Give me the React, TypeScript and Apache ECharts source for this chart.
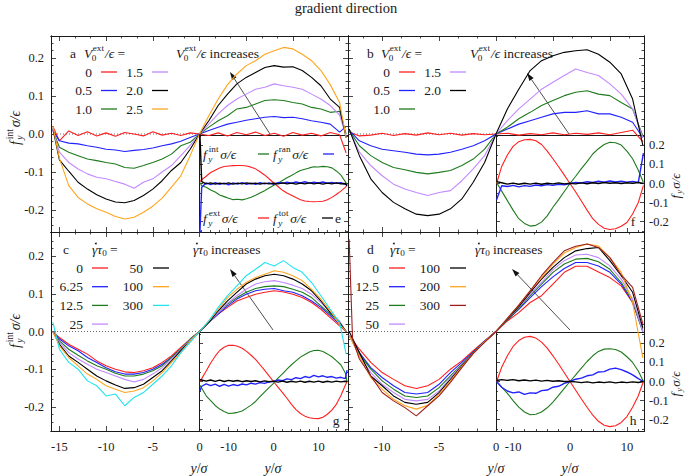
import React, { useEffect, useRef } from 'react';
import * as echarts from 'echarts';

const FONT = 'Liberation Serif';
const INK = '#1a1a1a';
const RED = '#ff1f1f', BLUE = '#2222ff', GREEN = '#1e7b1e', VIOLET = '#c28aff',
  BLACK = '#000000', ORANGE = '#ffa51f', CYAN = '#22e3ee', DARKRED = '#9e1e1e';

// ---------- x positions ----------
const xsA = [-15.7, -15, -14, -13, -12, -11, -10, -9, -8, -7, -6, -5, -4, -3, -2, -1, 0, 1, 2, 3, 4, 5, 6, 7, 8, 9, 10, 11, 12, 13, 14, 15, 15.7];
const xsB = [-12.9, -12, -11, -10, -9, -8, -7, -6, -5, -4, -3, -2, -1, 0, 1, 2, 3, 4, 5, 6, 7, 8, 9, 10, 11, 12, 12.9];
const xsD300 = [-12.9, -12.6, -12, -11, -10, -9, -8, -7, -6, -5, -4, -3, -2, -1, 0, 1, 2, 3, 4, 5, 6, 7, 8, 9, 10, 11, 12, 12.9];
const xsE = [-16.4, -16, -15, -14, -13, -12, -11, -10, -9, -8, -7, -6, -5, -4, -3, -2, -1, 0, 1, 2, 3, 4, 5, 6, 7, 8, 9, 10, 11, 12, 13, 14, 15, 16, 16.4];

// ---------- panel a : V0ext/eps ----------
const a_V0 = [0.02, -0.018, 0.008, -0.004, 0.006, -0.005, 0.003, -0.006, 0.004, 0.0, -0.005, 0.006, -0.003, 0.002, -0.004, 0.003, 0.0, -0.004, 0.003, -0.005, 0.004, -0.002, 0.005, -0.004, 0.002, -0.006, 0.004, -0.003, 0.002, -0.005, 0.004, -0.002, -0.05];
const a_V05 = [0.01, -0.018, -0.024, -0.026, -0.031, -0.035, -0.04, -0.042, -0.046, -0.043, -0.041, -0.037, -0.031, -0.026, -0.019, -0.009, 0, 0.009, 0.018, 0.026, 0.031, 0.036, 0.04, 0.044, 0.046, 0.043, 0.044, 0.04, 0.035, 0.031, 0.026, 0.005, 0.02];
const a_V10 = [0.01, -0.035, -0.048, -0.057, -0.066, -0.07, -0.075, -0.079, -0.088, -0.09, -0.083, -0.075, -0.066, -0.053, -0.031, -0.022, 0, 0.018, 0.035, 0.048, 0.066, 0.07, 0.079, 0.088, 0.09, 0.088, 0.083, 0.079, 0.07, 0.066, 0.057, 0.06, 0.0];
const a_V15 = [0.01, -0.048, -0.075, -0.092, -0.105, -0.114, -0.118, -0.125, -0.132, -0.143, -0.127, -0.118, -0.1, -0.083, -0.057, -0.03, 0, 0.026, 0.053, 0.075, 0.092, 0.105, 0.118, 0.123, 0.132, 0.127, 0.123, 0.118, 0.105, 0.092, 0.075, 0.05, -0.005];
const a_V20 = [0.015, -0.068, -0.098, -0.127, -0.145, -0.16, -0.171, -0.179, -0.181, -0.175, -0.162, -0.145, -0.123, -0.096, -0.075, -0.04, 0, 0.035, 0.075, 0.105, 0.132, 0.149, 0.162, 0.175, 0.18, 0.176, 0.177, 0.167, 0.149, 0.127, 0.092, 0.07, -0.01];
const a_V25 = [0.02, -0.064, -0.136, -0.167, -0.184, -0.197, -0.206, -0.217, -0.224, -0.219, -0.206, -0.19, -0.169, -0.14, -0.11, -0.057, 0, 0.048, 0.092, 0.13, 0.158, 0.18, 0.193, 0.21, 0.219, 0.228, 0.224, 0.21, 0.193, 0.167, 0.13, 0.083, -0.01];

// ---------- panel b ----------
const b_V0 = [0.005, -0.005, -0.003, 0.002, -0.004, 0.001, -0.003, 0.003, -0.002, 0.002, -0.003, 0.001, -0.002, 0, 0.002, -0.003, 0.001, -0.002, 0.003, -0.002, 0.002, -0.001, 0.003, -0.002, 0.004, 0.01, -0.02];
const b_V05 = [0.01, -0.018, -0.031, -0.04, -0.044, -0.048, -0.053, -0.055, -0.053, -0.048, -0.04, -0.031, -0.018, 0, 0.013, 0.026, 0.035, 0.044, 0.053, 0.057, 0.057, 0.061, 0.053, 0.053, 0.044, 0.031, -0.01];
const b_V10 = [0.01, -0.031, -0.057, -0.075, -0.088, -0.094, -0.101, -0.105, -0.101, -0.096, -0.083, -0.066, -0.04, 0, 0.018, 0.04, 0.057, 0.075, 0.088, 0.101, 0.11, 0.114, 0.105, 0.101, 0.083, 0.066, -0.005];
const b_V15 = [0.01, -0.048, -0.083, -0.11, -0.132, -0.145, -0.154, -0.162, -0.154, -0.149, -0.123, -0.092, -0.057, 0, 0.035, 0.066, 0.092, 0.118, 0.136, 0.154, 0.171, 0.162, 0.154, 0.132, 0.105, 0.066, -0.01];
const b_V20 = [0.013, -0.057, -0.118, -0.154, -0.18, -0.197, -0.211, -0.215, -0.211, -0.197, -0.171, -0.127, -0.075, 0, 0.066, 0.118, 0.167, 0.193, 0.206, 0.215, 0.219, 0.222, 0.21, 0.189, 0.158, 0.092, -0.03];

// ---------- panel c : shear rate ----------
const c_0 = [0.0, -0.016, -0.034, -0.047, -0.06, -0.078, -0.091, -0.1, -0.107, -0.109, -0.104, -0.096, -0.082, -0.065, -0.042, -0.02, 0, 0.024, 0.046, 0.064, 0.081, 0.09, 0.099, 0.104, 0.108, 0.105, 0.099, 0.09, 0.077, 0.059, 0.037, 0.015, 0.0];
const c_625 = [0.0, -0.02, -0.038, -0.051, -0.069, -0.082, -0.096, -0.107, -0.113, -0.113, -0.109, -0.1, -0.087, -0.069, -0.047, -0.022, 0, 0.024, 0.046, 0.068, 0.086, 0.099, 0.108, 0.112, 0.114, 0.108, 0.104, 0.095, 0.081, 0.064, 0.042, 0.019, 0.0];
const c_125 = [0.0, -0.025, -0.047, -0.063, -0.078, -0.091, -0.1, -0.111, -0.118, -0.118, -0.113, -0.104, -0.091, -0.069, -0.047, -0.02, 0, 0.024, 0.05, 0.073, 0.09, 0.104, 0.114, 0.119, 0.121, 0.119, 0.112, 0.104, 0.09, 0.068, 0.046, 0.024, 0.0];
const c_25 = [0.0, -0.029, -0.056, -0.073, -0.087, -0.1, -0.109, -0.118, -0.127, -0.134, -0.127, -0.113, -0.096, -0.073, -0.049, -0.022, 0, 0.024, 0.05, 0.075, 0.095, 0.112, 0.126, 0.132, 0.135, 0.13, 0.123, 0.114, 0.099, 0.077, 0.05, 0.028, 0.0];
const c_50 = [0.0, -0.034, -0.065, -0.082, -0.1, -0.118, -0.131, -0.142, -0.151, -0.149, -0.14, -0.122, -0.104, -0.078, -0.051, -0.025, 0, 0.024, 0.055, 0.081, 0.104, 0.126, 0.139, 0.148, 0.152, 0.148, 0.139, 0.126, 0.108, 0.081, 0.05, 0.024, 0.0];
const c_100 = [0.0, -0.038, -0.069, -0.091, -0.113, -0.127, -0.144, -0.153, -0.162, -0.158, -0.149, -0.131, -0.109, -0.082, -0.056, -0.025, 0, 0.028, 0.059, 0.09, 0.112, 0.13, 0.143, 0.152, 0.161, 0.157, 0.148, 0.135, 0.112, 0.086, 0.055, 0.019, 0.0];
const c_300 = [0.024, -0.047, -0.082, -0.1, -0.131, -0.144, -0.171, -0.166, -0.197, -0.175, -0.162, -0.14, -0.118, -0.091, -0.056, -0.029, 0, 0.028, 0.064, 0.095, 0.121, 0.148, 0.165, 0.183, 0.174, 0.188, 0.17, 0.157, 0.13, 0.095, 0.059, 0.024, -0.06];

// ---------- panel d ----------
const d_0 = [-0.01, -0.047, -0.082, -0.109, -0.127, -0.144, -0.151, -0.144, -0.127, -0.1, -0.078, -0.051, -0.025, 0, 0.028, 0.05, 0.077, 0.095, 0.126, 0.157, 0.173, 0.173, 0.158, 0.143, 0.121, 0.077, 0.006];
const d_125 = [-0.01, -0.056, -0.096, -0.122, -0.144, -0.162, -0.166, -0.162, -0.14, -0.109, -0.082, -0.054, -0.025, 0, 0.031, 0.059, 0.09, 0.119, 0.145, 0.167, 0.183, 0.183, 0.174, 0.157, 0.126, 0.077, 0.0];
const d_25 = [-0.01, -0.06, -0.1, -0.131, -0.153, -0.171, -0.175, -0.171, -0.149, -0.118, -0.087, -0.056, -0.026, 0, 0.031, 0.061, 0.095, 0.126, 0.157, 0.179, 0.192, 0.194, 0.185, 0.165, 0.13, 0.081, 0.0];
const d_50 = [-0.01, -0.065, -0.109, -0.14, -0.162, -0.18, -0.184, -0.18, -0.158, -0.122, -0.089, -0.058, -0.027, 0, 0.033, 0.064, 0.099, 0.13, 0.164, 0.188, 0.203, 0.205, 0.196, 0.174, 0.139, 0.086, 0.0];
const d_100 = [0.0, -0.056, -0.118, -0.144, -0.171, -0.188, -0.193, -0.188, -0.162, -0.127, -0.091, -0.058, -0.027, 0, 0.033, 0.066, 0.104, 0.139, 0.17, 0.196, 0.214, 0.22, 0.223, 0.188, 0.148, 0.104, 0.01];
const d_200 = [-0.01, -0.065, -0.122, -0.153, -0.18, -0.197, -0.206, -0.196, -0.166, -0.131, -0.093, -0.058, -0.027, 0, 0.035, 0.07, 0.108, 0.143, 0.179, 0.208, 0.223, 0.232, 0.227, 0.196, 0.157, 0.077, -0.07];
const d_300 = [0.245, -0.02, -0.073, -0.118, -0.162, -0.184, -0.202, -0.224, -0.197, -0.171, -0.135, -0.096, -0.058, -0.029, 0, 0.035, 0.07, 0.108, 0.148, 0.183, 0.214, 0.226, 0.232, 0.223, 0.196, 0.15, 0.117, 0.02];

// ---------- insets: f_int (green), f_ran (blue), f_ext (red), f_tot (black) ----------
const e_int = [0.005, -0.012, -0.02, -0.034, -0.045, -0.06, -0.069, -0.078, -0.085, -0.083, -0.086, -0.08, -0.072, -0.062, -0.05, -0.038, -0.024, -0.01, 0.002, 0.016, 0.03, 0.042, 0.056, 0.068, 0.075, 0.082, 0.088, 0.087, 0.09, 0.088, 0.082, 0.066, 0.045, 0.01, -0.005];
const e_ran = [-0.26, -0.02, 0.003, -0.006, 0.004, -0.004, 0.002, -0.007, 0.003, -0.003, 0.005, -0.004, 0.002, -0.005, 0.004, -0.002, 0.003, -0.004, 0.005, 0.001, 0.007, 0.002, 0.008, 0.003, 0.009, 0.002, 0.007, 0.003, 0.008, 0.002, 0.006, 0.001, 0.004, -0.004, -0.01];
const e_ext = [0.01, 0.02, 0.038, 0.058, 0.07, 0.082, 0.089, 0.092, 0.094, 0.095, 0.095, 0.092, 0.086, 0.077, 0.062, 0.045, 0.025, 0.004, -0.016, -0.036, -0.05, -0.062, -0.074, -0.085, -0.092, -0.095, -0.096, -0.095, -0.093, -0.085, -0.073, -0.058, -0.04, -0.02, -0.01];
const e_tot = [0.26, 0.01, -0.002, 0.003, -0.003, 0.002, -0.002, 0.003, -0.003, 0.002, -0.002, 0.003, -0.001, 0.002, -0.003, 0.002, -0.002, 0.001, -0.002, 0.003, -0.002, 0.002, -0.003, 0.002, -0.002, 0.003, -0.002, 0.002, -0.003, 0.002, -0.002, 0.003, -0.002, 0.0, -0.01];

const f_int = [0.005, -0.04, -0.09, -0.14, -0.185, -0.21, -0.224, -0.22, -0.203, -0.17, -0.125, -0.085, -0.042, 0, 0.038, 0.078, 0.115, 0.155, 0.183, 0.205, 0.217, 0.214, 0.202, 0.17, 0.13, 0.07, 0.005];
const f_ran = [-0.085, -0.012, -0.016, -0.01, -0.018, -0.011, -0.015, -0.008, -0.012, -0.006, -0.01, -0.004, -0.007, 0, 0.006, 0.003, 0.009, 0.005, 0.012, 0.007, 0.013, 0.008, 0.012, 0.007, 0.011, 0.006, 0.16];
const f_ext = [0.0, 0.09, 0.15, 0.195, 0.22, 0.23, 0.232, 0.225, 0.205, 0.17, 0.13, 0.088, 0.044, 0, -0.045, -0.092, -0.14, -0.185, -0.215, -0.235, -0.242, -0.238, -0.225, -0.205, -0.16, -0.1, -0.01];
const f_tot = [0.01, 0.004, -0.003, 0.002, -0.004, 0.001, -0.003, 0.002, -0.004, 0.001, -0.002, 0.003, -0.002, 0.001, -0.002, 0.003, -0.001, 0.004, 0.0, 0.005, 0.001, 0.004, 0.0, 0.004, 0.001, 0.005, 0.0];

const g_int = [-0.02, -0.035, -0.075, -0.1, -0.126, -0.145, -0.158, -0.168, -0.166, -0.162, -0.155, -0.14, -0.124, -0.105, -0.08, -0.056, -0.032, -0.01, 0.018, 0.04, 0.065, 0.088, 0.108, 0.128, 0.142, 0.155, 0.163, 0.164, 0.158, 0.145, 0.13, 0.11, 0.088, 0.045, 0.0];
const g_ran = [-0.05, -0.025, -0.012, -0.022, -0.014, -0.025, -0.015, -0.024, -0.016, -0.022, -0.013, -0.018, -0.009, -0.014, -0.006, -0.01, -0.002, 0.0, 0.008, 0.004, 0.014, 0.01, 0.02, 0.015, 0.026, 0.02, 0.032, 0.024, 0.03, 0.022, 0.026, 0.018, 0.022, 0.015, 0.06];
const g_ext = [0.0, 0.015, 0.055, 0.097, 0.133, 0.163, 0.18, 0.19, 0.19, 0.185, 0.175, 0.158, 0.138, 0.116, 0.088, 0.06, 0.03, 0.0, -0.03, -0.058, -0.088, -0.12, -0.148, -0.168, -0.182, -0.19, -0.194, -0.195, -0.188, -0.172, -0.15, -0.12, -0.075, -0.02, 0.0];
const g_tot = [0.01, 0.008, 0.002, 0.008, 0.001, 0.007, 0.0, 0.006, 0.001, 0.005, -0.001, 0.004, 0.0, 0.004, -0.002, 0.003, -0.001, 0.002, -0.003, 0.002, -0.004, 0.001, -0.003, 0.002, -0.004, 0.001, -0.003, 0.002, -0.004, 0.001, -0.003, 0.002, -0.002, 0.001, 0.0];

const h_int = [0.0, -0.03, -0.062, -0.1, -0.135, -0.16, -0.175, -0.172, -0.16, -0.138, -0.108, -0.073, -0.036, 0, 0.035, 0.07, 0.105, 0.135, 0.158, 0.17, 0.172, 0.168, 0.155, 0.13, 0.1, 0.055, 0.0];
const h_ran = [0.0, -0.03, -0.05, -0.06, -0.055, -0.068, -0.06, -0.062, -0.048, -0.045, -0.03, -0.025, -0.01, 0, 0.012, 0.018, 0.03, 0.035, 0.05, 0.052, 0.065, 0.07, 0.062, 0.05, 0.035, 0.015, 0.0];
const h_ext = [0.0, 0.075, 0.135, 0.184, 0.215, 0.232, 0.237, 0.228, 0.207, 0.175, 0.135, 0.092, 0.046, 0, -0.046, -0.092, -0.135, -0.177, -0.209, -0.23, -0.237, -0.232, -0.215, -0.184, -0.135, -0.075, 0.0];
const h_tot = [0.005, 0.01, 0.006, 0.01, 0.004, 0.008, 0.003, 0.007, 0.002, 0.006, 0.001, 0.004, 0.0, 0, -0.002, -0.006, -0.002, -0.007, -0.003, -0.006, -0.002, -0.007, -0.003, -0.006, -0.002, -0.005, 0.0];

// ---------- legends / ticks ----------
const legA = ['0', '0.5', '1.0', '1.5', '2.0', '2.5'];
const legB = ['0', '0.5', '1.0', '1.5', '2.0'];
const legC = ['0', '6.25', '12.5', '25', '50', '100', '300'];
const legD = ['0', '12.5', '25', '50', '100', '200', '300'];
const colA = [RED, BLUE, GREEN, VIOLET, BLACK, ORANGE];
const colC = [RED, BLUE, GREEN, VIOLET, BLACK, ORANGE, CYAN];
const colD = [RED, BLUE, GREEN, VIOLET, BLACK, ORANGE, DARKRED];

const Y_TICKS = [-0.2, -0.1, 0, 0.1, 0.2];
const X_TICKS_AC = [-15, -10, -5, 0];
const X_TICKS_AC_FULL = [-15, -10, -5, 0, 5, 10, 15];
const X_TICKS_BD = [-10, -5, 0];
const X_TICKS_BD_FULL = [-10, -5, 0, 5, 10];
const X_TICKS_INSET = [-10, 0, 10];

// ---------- text helpers ----------
type Part = { t: string; it?: boolean; sz?: number; dy?: number; st?: boolean; dx?: number; dot?: boolean };
let mctx: CanvasRenderingContext2D | null = null;
const fontStr = (size: number, it: boolean) => `${it ? 'italic ' : ''}${size}px ${FONT}`;
function textW(t: string, size: number, it: boolean) {
  if (!mctx) mctx = document.createElement('canvas').getContext('2d');
  if (!mctx) return t.length * size * 0.5;
  mctx.font = fontStr(size, it);
  return mctx.measureText(t).width;
}
function txtStyle(t: string, size: number, it: boolean, align = 'left') {
  return {
    text: t, fontFamily: FONT, fontSize: size, fontStyle: it ? 'italic' : 'normal', fill: INK,
    textAlign: align, align, textVerticalAlign: 'middle', verticalAlign: 'middle',
  };
}
function mathGroup(parts: Part[], base: number, x: number, y: number, align: 'left' | 'right' | 'center' = 'left', rotation = 0) {
  let cx = 0, prevStart = 0, prevW = 0;
  const items: any[] = [];
  for (const p of parts) {
    if (p.dot) { items.push({ sx: prevStart + prevW / 2 + (p.dx ?? 0), p, size: 0 }); continue; }
    const size = base * (p.sz ?? 1);
    const w = textW(p.t, size, !!p.it);
    let sx: number;
    if (p.st) { sx = prevStart + (p.dx ?? 0); const m = Math.max(prevW, w + (p.dx ?? 0)); cx = prevStart + m; prevW = m; }
    else { sx = cx + (p.dx ?? 0); cx = sx + w; prevStart = sx; prevW = w; }
    items.push({ sx, p, size });
  }
  const off = align === 'left' ? 0 : align === 'right' ? -cx : -cx / 2;
  return {
    type: 'group', x, y, rotation, silent: true,
    children: items.map(({ sx, p, size }) => p.dot
      ? { type: 'circle', shape: { cx: sx + off, cy: p.dy ?? 0, r: 0.95 }, style: { fill: INK } }
      : { type: 'text', x: sx + off, y: p.dy ?? 0, style: txtStyle(p.t, size, !!p.it) }),
  };
}
function plain(x: number, y: number, t: string, size: number, align = 'left') {
  return { type: 'text', x, y, silent: true, style: txtStyle(t, size, false, align) };
}
function dash(x1: number, x2: number, y: number, color: string) {
  return { type: 'line', silent: true, shape: { x1, y1: y, x2, y2: y }, style: { stroke: color, lineWidth: 1.3 } };
}
function arrow(x1: number, y1: number, x2: number, y2: number) {
  const ang = Math.atan2(y2 - y1, x2 - x1), L = 8, Wd = 2.6;
  const bx = x2 - L * Math.cos(ang), by = y2 - L * Math.sin(ang);
  const px = -Math.sin(ang) * Wd, py = Math.cos(ang) * Wd;
  return [
    { type: 'line', silent: true, shape: { x1, y1, x2: bx, y2: by }, style: { stroke: '#222', lineWidth: 0.8 } },
    { type: 'polygon', silent: true, shape: { points: [[x2, y2], [bx + px, by + py], [bx - px, by - py]] }, style: { fill: '#111' } },
  ];
}

const sub = (t: string, dx = 1.5, dy = 5): Part => ({ t, it: true, sz: 0.68, dy, dx });
const sup = (t: string, dx = 0): Part => ({ t, sz: 0.68, dy: -5.5, st: true, dx });
const fPart = (s: string): Part[] => [{ t: 'f', it: true }, sub('y'), sup(s, 0.5), { t: 'σ/ϵ', it: true, dx: 1.8 }];
const V0: Part[] = [{ t: 'V', it: true }, { t: '0', sz: 0.68, dy: 5, dx: -0.5 }, sup('ext', 1), { t: '/ϵ', it: true, dx: 1 }];
const G0: Part[] = [{ t: 'γ', it: true }, { t: '', dot: true, dy: -5.5, dx: 1.2 }, { t: 'τ', it: true }, { t: '0', sz: 0.68, dy: 4 }];

function ticksBetween(from: number, to: number, step: number, exclude: number[]) {
  const out: number[] = [];
  const n = Math.floor((to - from) / step + 1e-9);
  for (let i = 0; i <= n; i++) {
    const v = Math.round((from + i * step) * 1e6) / 1e6;
    if (!exclude.some(e => Math.abs(e - v) < 1e-6)) out.push(v);
  }
  return out;
}

function buildOption() {
  const grid: any[] = [], xAxis: any[] = [], yAxis: any[] = [], series: any[] = [];
  const fmtX = (v: number) => String(v);
  const fmtY = (v: number) => v.toFixed(1);
  const ax = (gi: number, position: string, min: number, max: number, ticks: number[], len: number, labels?: number[] | null, margin = 8, fmt?: any) => ({
    type: 'value', gridIndex: gi, position, min, max,
    axisLine: { show: true, onZero: false, lineStyle: { color: INK, width: 1 } },
    axisTick: { show: ticks.length > 0, inside: true, length: len, customValues: ticks, lineStyle: { color: INK, width: 0.8 } },
    axisLabel: labels ? { show: true, customValues: labels, formatter: fmt, margin, fontFamily: FONT, fontSize: 12.5, color: INK } : { show: false },
    splitLine: { show: false }, minorTick: { show: false }, splitArea: { show: false },
  });

  const addMain = (box: any, L: number, yr: number, xMaj: number[], xFull: number[], xLab: boolean, yLab: boolean) => {
    const gi = grid.length; grid.push(box);
    const xi = xAxis.length, yi = yAxis.length;
    xAxis.push(ax(gi, 'bottom', -L, L, xMaj, 5, xLab ? xMaj : null, 9, fmtX));
    xAxis.push(ax(gi, 'bottom', -L, L, ticksBetween(-15, 0, 5 / 3, xMaj).filter(v => v > -L), 2.5));
    xAxis.push(ax(gi, 'top', -L, L, xFull, 5));
    xAxis.push(ax(gi, 'top', -L, L, ticksBetween(-15, 15, 5 / 3, xFull).filter(v => Math.abs(v) < L), 2.5));
    yAxis.push(ax(gi, 'left', -yr, yr, Y_TICKS, 5, yLab ? Y_TICKS : null, 7, fmtY));
    yAxis.push(ax(gi, 'left', -yr, yr, ticksBetween(-0.24, 0.24, 0.02, Y_TICKS), 2.5));
    yAxis.push(ax(gi, 'right', -yr, yr, [0.1, 0.2], 5));
    yAxis.push(ax(gi, 'right', -yr, yr, ticksBetween(0.02, 0.24, 0.02, Y_TICKS), 2.5));
    series.push({ type: 'line', xAxisIndex: xi, yAxisIndex: yi, data: [[-L, 0], [0, 0]], symbol: 'none', silent: true, z: 1, lineStyle: { color: '#444', width: 0.8, type: [1, 2] } });
    return { xi, yi };
  };
  const addInset = (box: any, L: number, yr: number, xLab: boolean, yLab: boolean) => {
    const gi = grid.length; grid.push(box);
    const xi = xAxis.length, yi = yAxis.length;
    xAxis.push(ax(gi, 'bottom', -L, L, X_TICKS_INSET, 4, xLab ? X_TICKS_INSET : null, 9, fmtX));
    xAxis.push(ax(gi, 'bottom', -L, L, ticksBetween(-16, 16, 2, X_TICKS_INSET).filter(v => Math.abs(v) < L), 2));
    xAxis.push(ax(gi, 'top', -L, L, [], 0));
    yAxis.push(ax(gi, 'left', -yr, yr, Y_TICKS, 4));
    yAxis.push(ax(gi, 'left', -yr, yr, ticksBetween(-0.25, 0.25, 0.05, Y_TICKS).filter(v => Math.abs(v) < yr), 2));
    yAxis.push(ax(gi, 'right', -yr, yr, Y_TICKS, 4, yLab ? Y_TICKS : null, 5, fmtY));
    yAxis.push(ax(gi, 'right', -yr, yr, ticksBetween(-0.25, 0.25, 0.05, Y_TICKS).filter(v => Math.abs(v) < yr), 2));
    return { xi, yi };
  };
  const line = (ix: { xi: number; yi: number }, xs: number[], ys: number[], color: string, width = 1.1, z = 2) => {
    series.push({
      type: 'line', xAxisIndex: ix.xi, yAxisIndex: ix.yi, data: xs.map((x, i) => [x, ys[i]]),
      symbol: 'none', silent: true, z, clip: true, lineStyle: { color, width }, itemStyle: { color },
    });
  };

  const LA = 15.9, LB = 13.0, LI = 16.6;
  // panel a + inset e
  const pa = addMain({ left: 51, top: 36, width: 297, height: 196 }, LA, 0.258, X_TICKS_AC, X_TICKS_AC_FULL, false, true);
  [a_V0, a_V05, a_V10, a_V15, a_V20, a_V25].forEach((ys, i) => line(pa, xsA, ys, colA[i]));
  const pe = addInset({ left: 199, top: 135, width: 149, height: 97 }, LI, 0.255, false, false);
  line(pe, xsE, e_ext, RED, 1.1, 3); line(pe, xsE, e_int, GREEN, 1.1, 3);
  line(pe, xsE, e_ran, BLUE, 1.4, 3); line(pe, xsE, e_tot, BLACK, 1.4, 3);
  // panel b + inset f
  const pb = addMain({ left: 348, top: 36, width: 296, height: 196 }, LB, 0.258, X_TICKS_BD, X_TICKS_BD_FULL, false, false);
  [b_V0, b_V05, b_V10, b_V15, b_V20].forEach((ys, i) => line(pb, xsB, ys, colA[i]));
  const pf = addInset({ left: 496, top: 135, width: 148, height: 97 }, LB, 0.255, false, true);
  line(pf, xsB, f_ext, RED, 1.1, 3); line(pf, xsB, f_int, GREEN, 1.1, 3);
  line(pf, xsB, f_ran, BLUE, 1.4, 3); line(pf, xsB, f_tot, BLACK, 1.4, 3);
  // panel c + inset g
  const pc = addMain({ left: 51, top: 232, width: 297, height: 199 }, LA, 0.264, X_TICKS_AC, X_TICKS_AC_FULL, true, true);
  [c_0, c_625, c_125, c_25, c_50, c_100, c_300].forEach((ys, i) => line(pc, xsA, ys, colC[i]));
  const pg = addInset({ left: 199, top: 332, width: 149, height: 99 }, LI, 0.26, true, false);
  line(pg, xsE, g_ext, RED, 1.1, 3); line(pg, xsE, g_int, GREEN, 1.1, 3);
  line(pg, xsE, g_ran, BLUE, 1.4, 3); line(pg, xsE, g_tot, BLACK, 1.4, 3);
  // panel d + inset h
  const pd = addMain({ left: 348, top: 232, width: 296, height: 199 }, LB, 0.264, X_TICKS_BD, X_TICKS_BD_FULL, true, false);
  [d_0, d_125, d_25, d_50, d_100, d_200].forEach((ys, i) => line(pd, xsB, ys, colD[i]));
  line(pd, xsD300, d_300, DARKRED);
  const ph = addInset({ left: 496, top: 332, width: 148, height: 99 }, LB, 0.26, true, true);
  line(ph, xsB, h_ext, RED, 1.1, 3); line(ph, xsB, h_int, GREEN, 1.1, 3);
  line(ph, xsB, h_ran, BLUE, 1.4, 3); line(ph, xsB, h_tot, BLACK, 1.4, 3);

  // ---------- graphic annotations ----------
  const FS = 13.5;
  const g: any[] = [];
  g.push({ type: 'text', x: 346, y: 8, silent: true, style: txtStyle('gradient direction', 14.5, false, 'center') });
  const legend = (labels: string[], colors: string[], rows: number, numRight: number[], dashX: number[], y0: number, dy: number) => {
    labels.forEach((lab, i) => {
      const col = i < rows ? 0 : 1, row = i < rows ? i : i - rows;
      const y = y0 + row * dy;
      g.push(plain(numRight[col], y, lab, FS, 'right'));
      g.push(dash(dashX[col], dashX[col] + 16, y, colors[i]));
    });
  };
  // a
  g.push(plain(70, 53, 'a', FS));
  g.push(mathGroup([...V0, { t: ' =' }], FS, 84, 53));
  g.push(mathGroup([...V0, { t: ' increases' }], FS, 176, 53));
  legend(legA, colA, 3, [92, 143], [101, 152], 72, 18.5);
  g.push(...arrow(270, 134, 230, 72));
  // b
  g.push(plain(367, 53, 'b', FS));
  g.push(mathGroup([...V0, { t: ' =' }], FS, 381, 53));
  g.push(mathGroup([...V0, { t: ' increases' }], FS, 470, 53));
  legend(legB, colA, 3, [390, 441], [399, 450], 72, 18.5);
  g.push(...arrow(569, 134, 527, 73));
  // c
  g.push(plain(63, 249, 'c', FS));
  g.push(mathGroup([...G0, { t: ' =' }], FS, 92, 249));
  g.push(mathGroup([...G0, { t: ' increases' }], FS, 193, 249));
  legend(legC, colC, 4, [83, 143], [92, 153], 268, 18.7);
  g.push(...arrow(273, 330, 230, 269));
  // d
  g.push(plain(367, 249, 'd', FS));
  g.push(mathGroup([...G0, { t: ' =' }], FS, 390, 249));
  g.push(mathGroup([...G0, { t: ' increases' }], FS, 475, 249));
  legend(legD, colD, 4, [379, 440], [389, 450], 268, 18.7);
  g.push(...arrow(570, 330, 512, 269));
  // inset e legend
  g.push(mathGroup(fPart('int'), FS, 203, 154)); g.push(dash(258, 269, 154, GREEN));
  g.push(mathGroup(fPart('ran'), FS, 273, 154)); g.push(dash(323, 334, 154, BLUE));
  g.push(mathGroup(fPart('ext'), FS, 203, 218)); g.push(dash(258, 269, 218, RED));
  g.push(mathGroup(fPart('tot'), FS, 273, 218)); g.push(dash(322, 333, 218, BLACK));
  g.push(plain(335, 218, 'e', FS));
  g.push(plain(633, 221, 'f', FS, 'center'));
  g.push(plain(336, 420, 'g', FS, 'center'));
  g.push(plain(633, 420, 'h', FS, 'center'));
  // axis titles
  g.push(mathGroup(fPart('int'), 14, 15, 128, 'center', Math.PI / 2));
  g.push(mathGroup(fPart('int'), 14, 15, 331, 'center', Math.PI / 2));
  const fy: Part[] = [{ t: 'f', it: true }, sub('y', 1.2, 4), { t: 'σ/ϵ', it: true, dx: 1 }];
  g.push(mathGroup(fy, 13, 675, 186, 'center', Math.PI / 2));
  g.push(mathGroup(fy, 13, 675, 384, 'center', Math.PI / 2));
  const ys: Part[] = [{ t: 'y', it: true }, { t: '/' }, { t: 'σ', it: true }];
  [199, 273, 496, 570].forEach(x => g.push(mathGroup(ys, 14, x, 468, 'center')));

  return { animation: false, backgroundColor: '#ffffff', grid, xAxis, yAxis, series, graphic: { elements: g } };
}

export default function App() {
  const ref = useRef<HTMLDivElement>(null);
  useEffect(() => {
    document.body.style.margin = '0';
    const chart = echarts.init(ref.current!, null, { renderer: 'svg' });
    chart.setOption(buildOption() as any);
    return () => chart.dispose();
  }, []);
  return <div ref={ref} style={{ width: 685, height: 476 }} />;
}
